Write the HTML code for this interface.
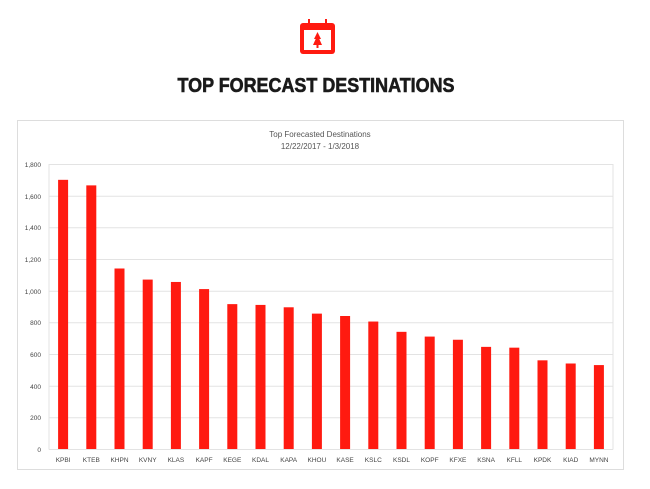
<!DOCTYPE html>
<html><head><style>
body{margin:0;width:650px;height:484px;background:#fff;font-family:"Liberation Sans",sans-serif;overflow:hidden}
</style></head><body>
<svg width="650" height="484" xmlns="http://www.w3.org/2000/svg" font-family="Liberation Sans, sans-serif">
<rect x="300" y="23" width="35" height="31" rx="3" fill="#ff1a10"/>
<rect x="304" y="30" width="27" height="20" fill="#fff"/>
<rect x="308" y="19" width="2" height="7" fill="#ff1a10"/>
<rect x="325" y="19" width="2" height="7" fill="#ff1a10"/>
<polygon points="317.5,32 314,39 321,39" fill="#ff1a10"/>
<polygon points="317.5,35 313,45 322,45" fill="#ff1a10"/>
<rect x="316.5" y="44" width="2" height="4" fill="#ff1a10"/>
<text x="316" y="92" text-anchor="middle" font-size="20" font-weight="bold" fill="#1a1a1a" stroke="#1a1a1a" stroke-width="0.6" textLength="277" lengthAdjust="spacingAndGlyphs">TOP FORECAST DESTINATIONS</text>
<rect x="17.5" y="120.5" width="606" height="349" fill="#fff" stroke="#ddd"/>
<text x="320" y="137" text-anchor="middle" font-size="8" fill="#555">Top Forecasted Destinations</text>
<text x="320" y="149" text-anchor="middle" font-size="8" fill="#555">12/22/2017 - 1/3/2018</text>
<g stroke="#e3e3e3" stroke-width="1">
<line x1="49" x2="613" y1="164.5" y2="164.5"/><line x1="49" x2="613" y1="196.2" y2="196.2"/>
<line x1="49" x2="613" y1="227.8" y2="227.8"/><line x1="49" x2="613" y1="259.5" y2="259.5"/>
<line x1="49" x2="613" y1="291.2" y2="291.2"/><line x1="49" x2="613" y1="322.8" y2="322.8"/>
<line x1="49" x2="613" y1="354.5" y2="354.5"/><line x1="49" x2="613" y1="386.2" y2="386.2"/>
<line x1="49" x2="613" y1="417.8" y2="417.8"/><line x1="49" x2="613" y1="449.5" y2="449.5"/>
<line x1="613" x2="613" y1="164" y2="449.5"/><line x1="49" x2="49" y1="164" y2="449.5"/>
</g>
<g font-size="6.5" fill="#444" text-anchor="end">
<text x="41" y="167">1,800</text><text x="41" y="199">1,600</text><text x="41" y="230">1,400</text>
<text x="41" y="262">1,200</text><text x="41" y="294">1,000</text><text x="41" y="325">800</text>
<text x="41" y="357">600</text><text x="41" y="389">400</text><text x="41" y="420">200</text><text x="41" y="452">0</text>
</g>
<g id="bars" fill="#ff1a10"></g>
<g id="labs" font-size="6.5" fill="#444" text-anchor="middle"></g>
</svg>
<script>
var v=[1700,1665,1140,1070,1055,1010,915,910,895,855,840,805,740,710,690,645,640,560,540,530];
var n="KPBI KTEB KHPN KVNY KLAS KAPF KEGE KDAL KAPA KHOU KASE KSLC KSDL KOPF KFXE KSNA KFLL KPDK KIAD MYNN".split(" ");
var b=document.getElementById("bars"),l=document.getElementById("labs"),ns="http://www.w3.org/2000/svg";
for(var i=0;i<20;i++){var c=49+28.2*(i+0.5),h=v[i]/1800*285;
var r=document.createElementNS(ns,"rect");r.setAttribute("x",c-5);r.setAttribute("width",10);r.setAttribute("y",449-h);r.setAttribute("height",h);b.appendChild(r);
var t=document.createElementNS(ns,"text");t.setAttribute("x",c);t.setAttribute("y",462);t.textContent=n[i];l.appendChild(t);}
</script>
</body></html>
